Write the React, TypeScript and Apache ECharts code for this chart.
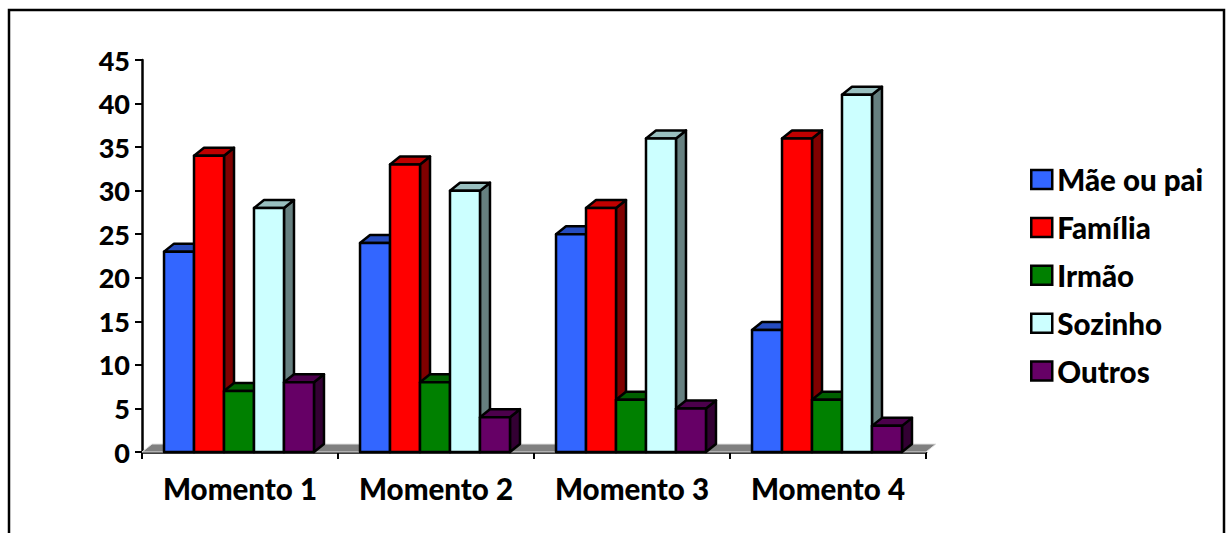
import React, { useEffect, useRef } from "react";
import * as echarts from "echarts";

const categories = ["Momento 1", "Momento 2", "Momento 3", "Momento 4"];
const yTicks = { min: 0, max: 45, interval: 5 };

const maeOuPai = [23, 24, 25, 14];
const familia = [34, 33, 28, 36];
const irmao = [7, 8, 6, 6];
const sozinho = [28, 30, 36, 41];
const outros = [8, 4, 5, 3];

const FONT = "Lato";
const DX = 10;
const DY = 8;

// front, top and side faces of each 3D column
const palette = [
  { name: "Mãe ou pai", values: maeOuPai, front: "#3366ff", top: "#264cbf", side: "#1a3380" },
  { name: "Família", values: familia, front: "#ff0000", top: "#bf0000", side: "#800000" },
  { name: "Irmão", values: irmao, front: "#008000", top: "#006000", side: "#004000" },
  { name: "Sozinho", values: sozinho, front: "#ccffff", top: "#99bfbf", side: "#668080" },
  { name: "Outros", values: outros, front: "#660066", top: "#4c004c", side: "#330033" },
];

function columnSeries(s: (typeof palette)[number], index: number) {
  return {
    type: "custom",
    name: s.name,
    clip: false,
    z: 3,
    itemStyle: { color: s.front, borderColor: "#000", borderWidth: 2 },
    encode: { x: 0, y: 1 },
    data: s.values.map((v, i) => [i, v]),
    renderItem: (_params: any, api: any) => {
      const p = api.coord([api.value(0), api.value(1)]);
      const base = api.coord([api.value(0), 0]);
      const band = api.size([1, 0])[0];
      const w = band * 0.153;
      const x0 = p[0] - 1 + (index - 2.5) * w;
      const x1 = x0 + w;
      const y0 = p[1];
      const y1 = base[1];
      const edge = { stroke: "#000", lineWidth: 2.5, lineJoin: "round" };
      return {
        type: "group",
        children: [
          {
            type: "polygon",
            shape: { points: [[x1, y0], [x1 + DX, y0 - DY], [x1 + DX, y1 - DY], [x1, y1]] },
            style: { fill: s.side, ...edge },
          },
          {
            type: "polygon",
            shape: { points: [[x0, y0], [x0 + DX, y0 - DY], [x1 + DX, y0 - DY], [x1, y0]] },
            style: { fill: s.top, ...edge },
          },
          {
            type: "rect",
            shape: { x: x0, y: y0, width: w, height: y1 - y0 },
            style: { fill: s.front, ...edge },
          },
        ],
      };
    },
  };
}

// grey floor of the 3D plot, behind the columns
const floorSeries = {
  type: "custom",
  name: "floor",
  clip: false,
  silent: true,
  z: 1,
  encode: { x: 0, y: 1 },
  data: [[0, 0]],
  renderItem: (params: any, api: any) => {
    const { x, y, width, height } = params.coordSys;
    const b = y + height;
    return {
      type: "group",
      children: [
        {
          type: "polygon",
          shape: { points: [[x, b], [x + DX, b - DY], [x + width + DX, b - DY], [x + width, b]] },
          style: { fill: "#808080", stroke: "#e2e2e2", lineWidth: 1 },
        },
      ],
    };
  },
};

export default function App() {
  const ref = useRef<HTMLDivElement>(null);

  useEffect(() => {
    document.body.style.margin = "0";
    const chart = echarts.init(ref.current!, undefined, { renderer: "svg" });
    chart.setOption({
      animation: false,
      backgroundColor: "#fff",
      grid: { left: 142, top: 60, width: 784, height: 392, containLabel: false },
      legend: {
        orient: "vertical",
        left: 1030,
        top: 164.5,
        padding: 0,
        itemWidth: 21,
        itemHeight: 19,
        itemGap: 17.9,
        icon: "rect",
        data: palette.map((s) => s.name),
        itemStyle: { borderColor: "#000", borderWidth: 2.5 },
        textStyle: {
          fontFamily: FONT,
          fontWeight: 900,
          fontSize: 29.5,
          color: "#000",
          lineHeight: 25,
        },
      },
      xAxis: {
        type: "category",
        data: categories,
        axisLine: { lineStyle: { color: "#000", width: 2.5 } },
        axisTick: { show: true, alignWithLabel: false, length: 7, lineStyle: { color: "#000", width: 2 } },
        axisLabel: { fontFamily: FONT, fontWeight: 900, fontSize: 29.5, color: "#000", margin: 21, interval: 0 },
        splitLine: { show: false },
      },
      yAxis: {
        type: "value",
        min: yTicks.min,
        max: yTicks.max,
        interval: yTicks.interval,
        axisLine: { show: true, lineStyle: { color: "#000", width: 2.5 } },
        axisTick: { show: true, length: 7, lineStyle: { color: "#000", width: 2 } },
        axisLabel: { fontFamily: FONT, fontWeight: 900, fontSize: 27, color: "#000", margin: 12 },
        splitLine: { show: false },
      },
      series: [floorSeries, ...palette.map(columnSeries)],
      graphic: [
        {
          type: "polyline",
          shape: { points: [[9, 540], [9, 10], [1224, 10], [1224, 540]] },
          style: { fill: "none", stroke: "#000", lineWidth: 2.5 },
          silent: true,
        },
      ],
    });
    return () => chart.dispose();
  }, []);

  return <div ref={ref} style={{ position: "absolute", left: 0, top: 0, width: 1227, height: 533 }} />;
}
